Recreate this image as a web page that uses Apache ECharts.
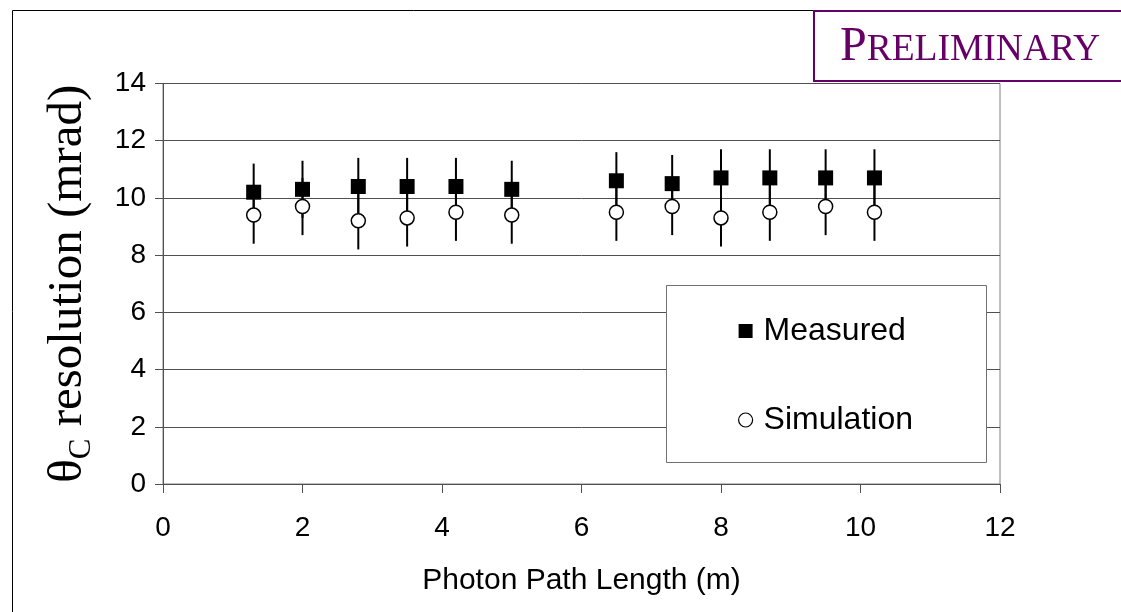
<!DOCTYPE html>
<html>
<head>
<meta charset="utf-8">
<title>Cherenkov angle resolution vs photon path length</title>
<script src="https://cdn.jsdelivr.net/npm/echarts@6/dist/echarts.min.js"></script>
<style>
  html, body { margin: 0; padding: 0; background: #fff; }
  #chart { width: 1121px; height: 612px; }
</style>
</head>
<body>
<div id="chart"></div>
<script>
// Photon path length (m) of each measurement point
const pathLength = [1.3, 2.0, 2.8, 3.5, 4.2, 5.0, 6.5, 7.3, 8.0, 8.7, 9.5, 10.2];
// Measured theta_C resolution (mrad) and its uncertainty
const measured = [10.2, 10.3, 10.4, 10.4, 10.4, 10.3, 10.6, 10.5, 10.7, 10.7, 10.7, 10.7];
const measuredErr = [1.0, 1.0, 1.0, 1.0, 1.0, 1.0, 1.0, 1.0, 1.0, 1.0, 1.0, 1.0];
// Simulated theta_C resolution (mrad) and its uncertainty
const simulation = [9.4, 9.7, 9.2, 9.3, 9.5, 9.4, 9.5, 9.7, 9.3, 9.5, 9.7, 9.5];
const simulationErr = [1.0, 1.0, 1.0, 1.0, 1.0, 1.0, 1.0, 1.0, 1.0, 1.0, 1.0, 1.0];
// Axis ticks
const xTicks = [0, 2, 4, 6, 8, 10, 12];
const yTicks = [0, 2, 4, 6, 8, 10, 12, 14];

const SANS = "'Liberation Sans', Arial, sans-serif";
const SERIF = "'Liberation Serif', 'Times New Roman', serif";

function points(values) {
  return pathLength.map((x, i) => [x, values[i]]);
}
function ranges(values, errs) {
  return pathLength.map((x, i) => [x, values[i] - errs[i], values[i] + errs[i]]);
}

// vertical error bar drawn through the cartesian scales
function errorBar(params, api) {
  const lo = api.coord([api.value(0), api.value(1)]);
  const hi = api.coord([api.value(0), api.value(2)]);
  return {
    type: 'line',
    shape: { x1: lo[0], y1: lo[1], x2: hi[0], y2: hi[1] },
    style: { stroke: '#000', lineWidth: 2 }
  };
}

const chart = echarts.init(document.getElementById('chart'), null, { renderer: 'canvas' });

chart.setOption({
  backgroundColor: '#fff',
  animation: false,
  grid: {
    left: 163, top: 83.5, right: 121, bottom: 128,
    show: true, borderColor: '#808080', borderWidth: 1, backgroundColor: '#fff'
  },
  xAxis: {
    type: 'value',
    min: xTicks[0], max: xTicks[xTicks.length - 1], interval: 2,
    name: 'Photon Path Length (m)',
    nameLocation: 'middle',
    nameGap: 82,
    nameTextStyle: { fontFamily: SANS, fontSize: 30, color: '#000' },
    axisLine: { show: true, onZero: false, lineStyle: { color: '#505050', width: 1 } },
    axisTick: { show: true, inside: false, length: 9, lineStyle: { color: '#505050' } },
    axisLabel: { fontFamily: SANS, fontSize: 28, color: '#000', margin: 30 },
    splitLine: { show: false }
  },
  yAxis: {
    type: 'value',
    min: yTicks[0], max: yTicks[yTicks.length - 1], interval: 2,
    name: '{t|θ}{s|C}{t| resolution (mrad)}',
    nameLocation: 'middle',
    nameRotate: 90,
    nameGap: 70,
    nameTextStyle: {
      rich: {
        t: { fontFamily: SERIF, fontSize: 49, color: '#000', verticalAlign: 'bottom', lineHeight: 54 },
        s: { fontFamily: SERIF, fontSize: 31, color: '#000', verticalAlign: 'bottom', lineHeight: 54, padding: [0, 0, -4, 0] }
      }
    },
    axisLine: { show: true, onZero: false, lineStyle: { color: '#505050', width: 1 } },
    axisTick: { show: true, inside: false, length: 8, lineStyle: { color: '#505050' } },
    axisLabel: { fontFamily: SANS, fontSize: 28, color: '#000', margin: 17 },
    splitLine: { show: true, lineStyle: { color: '#505050', width: 1 } }
  },
  legend: {
    data: [
      { name: 'Measured', icon: 'rect' },
      { name: 'Simulation', icon: 'circle', itemStyle: { color: '#fff', borderColor: '#000', borderWidth: 1.2, opacity: 1 } }
    ],
    orient: 'vertical',
    left: 738,
    top: 315,
    padding: 0,
    itemWidth: 14,
    itemHeight: 14,
    itemGap: 57,
    selectedMode: false,
    textStyle: { fontFamily: SANS, fontSize: 32, color: '#000', padding: [0, 0, 0, 6] },
    z: 10
  },
  graphic: [
    // outer frame
    { type: 'line', z: 1, shape: { x1: 12.5, y1: 10.5, x2: 12.5, y2: 612 }, style: { stroke: '#000', lineWidth: 1 } },
    { type: 'line', z: 1, shape: { x1: 12.5, y1: 10.5, x2: 814, y2: 10.5 }, style: { stroke: '#000', lineWidth: 1 } },
    // legend box
    { type: 'rect', z: 8, shape: { x: 666.5, y: 285.5, width: 320, height: 177 }, style: { fill: '#fff', stroke: '#707070', lineWidth: 1 } },
    // preliminary stamp
    { type: 'rect', z: 8, shape: { x: 814, y: 11, width: 400, height: 70 }, style: { fill: '#fff', stroke: '#660066', lineWidth: 2 } },
    {
      type: 'text', z: 9, x: 970, y: 46,
      style: {
        text: '{a|P}{b|RELIMINARY}',
        align: 'center',
        verticalAlign: 'middle',
        rich: {
          a: { fontFamily: SERIF, fontSize: 48, fill: '#660066', verticalAlign: 'bottom', lineHeight: 50 },
          b: { fontFamily: SERIF, fontSize: 37.5, fill: '#660066', verticalAlign: 'bottom', lineHeight: 50, padding: [0, 0, 2, 0] }
        }
      }
    }
  ],
  series: [
    {
      name: 'Simulation error',
      type: 'custom',
      renderItem: errorBar,
      encode: { x: 0, y: [1, 2] },
      data: ranges(simulation, simulationErr),
      z: 1,
      silent: true
    },
    {
      name: 'Measured error',
      type: 'custom',
      renderItem: errorBar,
      encode: { x: 0, y: [1, 2] },
      data: ranges(measured, measuredErr),
      z: 1,
      silent: true
    },
    {
      name: 'Measured',
      type: 'scatter',
      symbol: 'rect',
      symbolSize: 15,
      itemStyle: { color: '#000', opacity: 1 },
      data: points(measured),
      z: 2,
      silent: true
    },
    {
      name: 'Simulation',
      type: 'scatter',
      symbol: 'circle',
      symbolSize: 14,
      itemStyle: { color: '#fff', borderColor: '#000', borderWidth: 1.5, opacity: 1 },
      data: points(simulation),
      z: 3,
      silent: true
    }
  ]
});
</script>
</body>
</html>
